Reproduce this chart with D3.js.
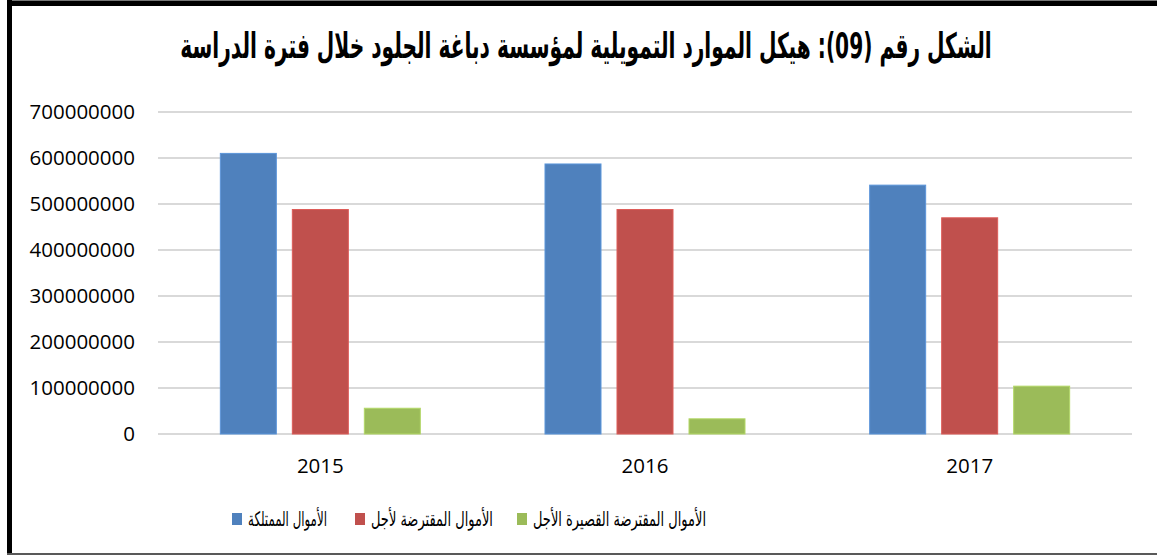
<!DOCTYPE html>
<html>
<head>
<meta charset="utf-8">
<script src="https://cdn.jsdelivr.net/npm/d3@7"></script>
<style>
  body { margin: 0; background: #fff; }
  .tick-label { font-family: "Open Sans", "Liberation Sans", sans-serif; font-size: 20.5px; fill: #000; }
  .legend-text { font-family: "DejaVu Sans", sans-serif; font-size: 20px; fill: #000; }
  .title { font-family: "DejaVu Sans", sans-serif; font-weight: bold; font-size: 35px; fill: #000; }
</style>
</head>
<body>
<svg id="chart"></svg>
<script>
// data
const years = ['2015', '2016', '2017'];
const seriesNames = ['الأموال الممتلكة', 'الأموال المقترضة لأجل', 'الأموال المقترضة القصيرة الأجل'];
const ownFunds = [610000000, 587000000, 541000000];
const longTermLoans = [488000000, 488000000, 470000000];
const shortTermLoans = [56000000, 33000000, 104000000];
const yTicks = [0, 100000000, 200000000, 300000000, 400000000, 500000000, 600000000, 700000000];
const colors = ['#4F81BD', '#C0504D', '#9BBB59'];
const titleText = 'الشكل رقم (09): هيكل الموارد التمويلية لمؤسسة دباغة الجلود خلال فترة الدراسة';

const width = 1157, height = 555;
const margin = { top: 112, right: 25, bottom: 121, left: 158 };
const innerW = width - margin.left - margin.right;
const innerH = height - margin.top - margin.bottom;

const svg = d3.select('#chart')
    .attr('width', width)
    .attr('height', height);

// squeeze a text horizontally so it is w wide, centred on cx
function squeeze(sel, cx, y, w) {
  const natural = sel.node().getComputedTextLength();
  sel.attr('x', 0).attr('y', 0)
      .attr('text-anchor', 'middle')
      .attr('transform', `translate(${cx},${y}) scale(${w / natural},1)`);
}

// frame
svg.append('rect').attr('x', 7).attr('y', 0).attr('width', width - 7).attr('height', 6).attr('fill', '#000');
svg.append('rect').attr('x', 7).attr('y', 0).attr('width', width - 7).attr('height', 1).attr('fill', '#777');
svg.append('rect').attr('x', 7).attr('y', 0).attr('width', 5).attr('height', height).attr('fill', '#000');
svg.append('rect').attr('x', 7).attr('y', height - 2).attr('width', width - 7).attr('height', 2).attr('fill', '#595959');

// title
const title = svg.append('text')
    .attr('class', 'title')
    .text(titleText);
squeeze(title, 586, 58, 812);

const chart = svg.append('g')
    .attr('transform', `translate(${margin.left},${margin.top})`);

const xScale = d3.scaleBand()
    .domain(years)
    .range([0, innerW]);

const xInner = d3.scaleBand()
    .domain(d3.range(seriesNames.length))
    .range([0, 200])
    .paddingInner(16 / 72);

const yScale = d3.scaleLinear()
    .domain([0, 700000000])
    .range([innerH, 0]);

// gridlines
chart.append('g')
    .selectAll('line')
    .data(yTicks)
    .join('line')
    .attr('x1', 0)
    .attr('x2', innerW)
    .attr('y1', d => yScale(d))
    .attr('y2', d => yScale(d))
    .attr('stroke', '#D9D9D9')
    .attr('stroke-width', 2);

// y axis labels
const yAxis = d3.axisLeft(yScale)
    .tickValues(yTicks)
    .tickSize(0)
    .tickPadding(23)
    .tickFormat(d3.format('d'));

chart.append('g')
    .call(yAxis)
    .call(g => g.select('.domain').remove())
    .call(g => g.selectAll('text').attr('class', 'tick-label').attr('font-family', null).attr('font-size', null).attr('fill', null));

// x axis labels
const xAxis = d3.axisBottom(xScale)
    .tickSize(0)
    .tickPadding(24);

chart.append('g')
    .attr('transform', `translate(0,${innerH})`)
    .call(xAxis)
    .call(g => g.select('.domain').remove())
    .call(g => g.selectAll('text').attr('class', 'tick-label').attr('font-family', null).attr('font-size', null).attr('fill', null));

// bars
const series = [ownFunds, longTermLoans, shortTermLoans];
const barData = [];
years.forEach((yr, i) => {
  series.forEach((s, j) => barData.push({ year: yr, idx: j, value: s[i] }));
});
const groupOffset = (xScale.bandwidth() - 200) / 2;

chart.append('g')
    .selectAll('rect')
    .data(barData)
    .join('rect')
    .attr('x', d => xScale(d.year) + groupOffset + xInner(d.idx))
    .attr('y', d => yScale(d.value))
    .attr('width', xInner.bandwidth())
    .attr('height', d => innerH - yScale(d.value))
    .attr('fill', d => colors[d.idx])
    .attr('stroke', d => d3.color(colors[d.idx]).brighter(0.4))
    .attr('stroke-width', 1);

// legend (left to right: blue, red, green)
const legendX = [232, 355, 517];
const legendW = [79, 122, 173];
const legend = svg.append('g');
seriesNames.forEach((name, j) => {
  legend.append('rect')
      .attr('x', legendX[j])
      .attr('y', 513)
      .attr('width', 10)
      .attr('height', 12)
      .attr('fill', colors[j]);
  const t = legend.append('text')
      .attr('class', 'legend-text')
      .text(name);
  squeeze(t, legendX[j] + 16 + legendW[j] / 2, 526, legendW[j]);
});
</script>
</body>
</html>
